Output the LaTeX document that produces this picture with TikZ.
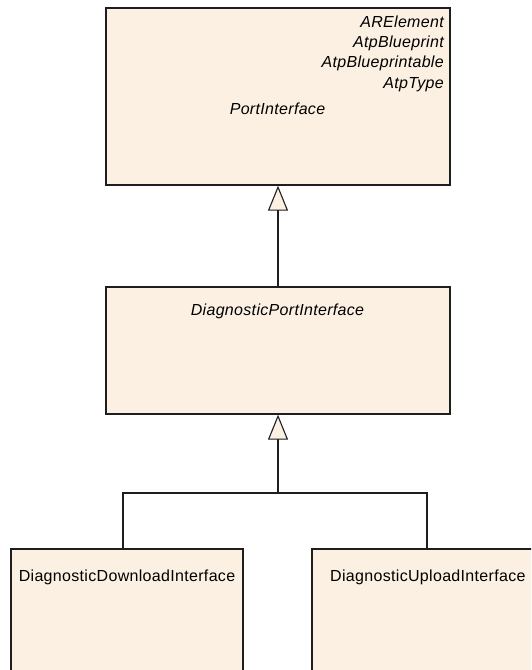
\documentclass[tikz,border=0pt]{standalone}
\usepackage{fontspec}
\setmainfont[LetterSpace=2]{Liberation Sans}
\usetikzlibrary{arrows.meta}
\definecolor{boxfill}{RGB}{251,240,225}
\definecolor{boxline}{RGB}{30,30,30}
\tikzset{
  x=1pt, y=1pt,
  umlbox/.style={draw=boxline, fill=boxfill, line width=1.3pt, rectangle, inner sep=0pt},
  txt/.style={inner sep=0pt, font=\fontsize{16}{19}\selectfont},
  itxt/.style={txt, font=\fontsize{16}{19}\selectfont\itshape},
  gen/.style={draw=boxline, line width=1.1pt, -{Triangle[length=25pt, width=20pt, fill=boxfill, line width=1.1pt]}},
  conn/.style={draw=boxline, line width=1.1pt}
}
\begin{document}
\begin{tikzpicture}
\useasboundingbox (0,0) rectangle (531,-670);
\clip (0,0) rectangle (531,-670);
% boxes
\node[umlbox, minimum width=344pt, minimum height=177pt] (top) at (278,-96.5) {};
\node[umlbox, minimum width=344pt, minimum height=127pt] (mid) at (278,-350.5) {};
\node[umlbox, minimum width=232pt, minimum height=160pt] (left) at (127,-629) {};
\node[umlbox, minimum width=233pt, minimum height=160pt] (right) at (428.5,-629) {};
% texts
\node[itxt, anchor=base east] (s1) at (444,-27.8) {ARElement};
\node[itxt, anchor=base east] (s2) at (444,-47.5) {AtpBlueprint};
\node[itxt, anchor=base east] (s3) at (444,-67.5) {AtpBlueprintable};
\node[itxt, anchor=base east] (s4) at (444,-88.5) {AtpType};
\node[itxt, anchor=base] (n1) at (277.5,-114.5) {PortInterface};
\node[itxt, anchor=base] (n2) at (277.5,-315) {DiagnosticPortInterface};
\node[txt, anchor=base west] (n3) at (18.6,-581) {DiagnosticDownloadInterface};
\node[txt, anchor=base west] (n4) at (330,-581) {DiagnosticUploadInterface};
% connectors
\draw[gen] (mid.north) -- (top.south);
\coordinate (j) at (278,-493);
\draw[gen] (j) -- (mid.south);
\draw[conn] ([xshift=-4pt]left.north) |- (j) -| ([xshift=-1.5pt]right.north);
\end{tikzpicture}
\end{document}
